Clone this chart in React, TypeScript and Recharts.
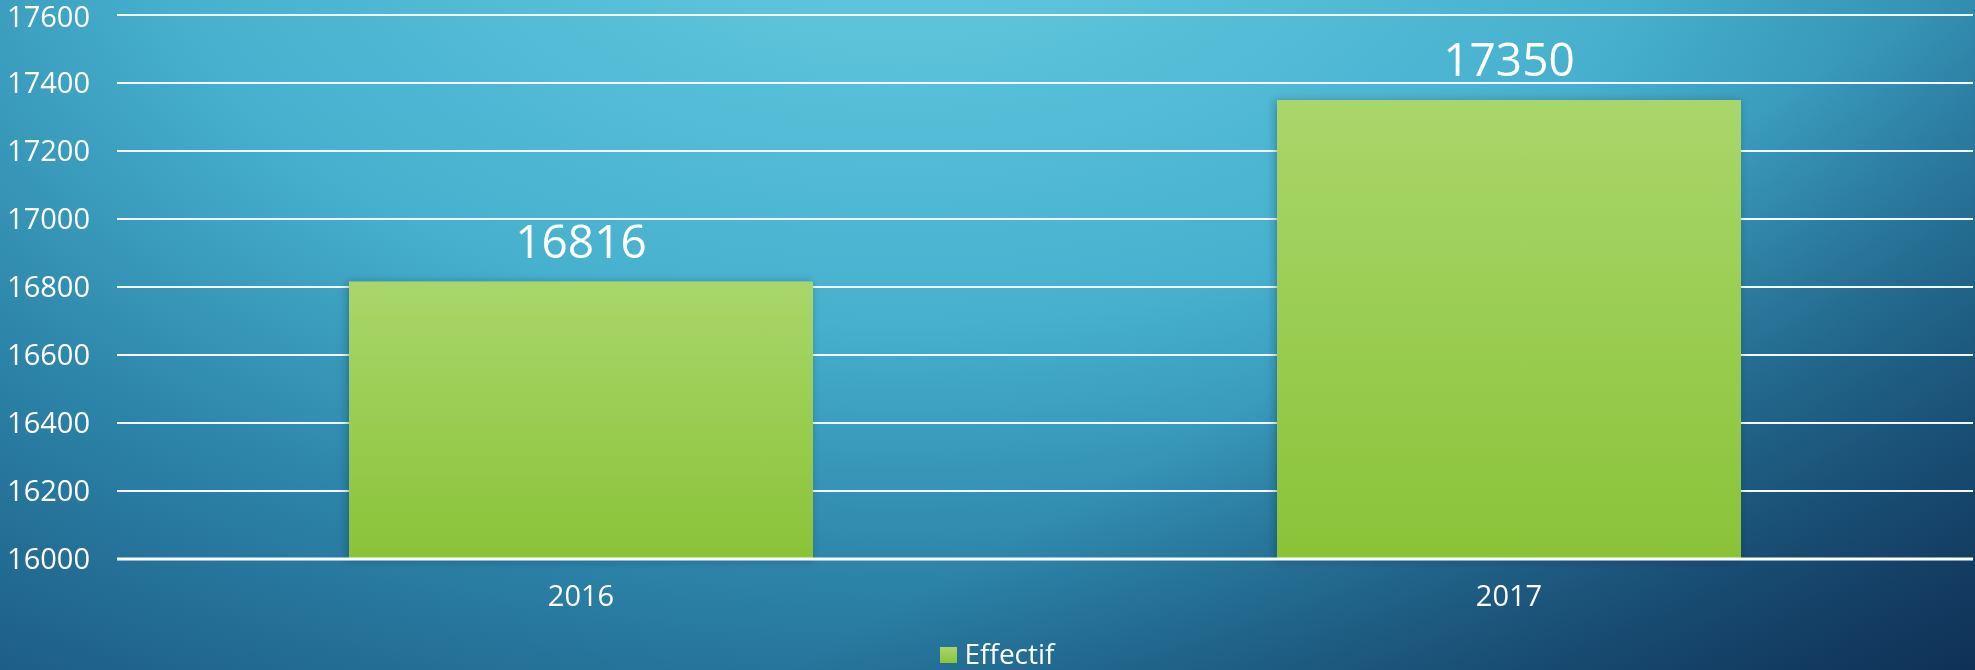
import { BarChart, Bar, XAxis, YAxis, CartesianGrid, Legend, LabelList } from 'recharts';

const years = ['2016', '2017'];
const effectif = [16816, 17350];
const yTicks = [16000, 16200, 16400, 16600, 16800, 17000, 17200, 17400, 17600];

const chartData = years.map((year, i) => ({ year, Effectif: effectif[i] }));

const FONT = '"Open Sans", sans-serif';

// slide-style backdrop: bright spot top-center, darkening toward the bottom-right corner
const background = [
  'linear-gradient(150deg, rgba(8,25,60,0) 62%, rgba(8,25,60,0.6) 100%)',
  'radial-gradient(1500px 850px at 900px -100px, #66cbe0 0%, #46b0ce 50%, #2c83a8 80%, #1a5580 115%)',
].join(', ');

function LegendContent() {
  return (
    <div
      style={{
        height: 40,
        display: 'flex',
        alignItems: 'center',
        justifyContent: 'center',
        fontFamily: FONT,
        fontSize: 28,
        color: '#fff',
        paddingTop: 6,
        paddingLeft: 22,
        boxSizing: 'border-box',
      }}
    >
      <span
        style={{
          display: 'inline-block',
          width: 17,
          height: 16,
          marginRight: 7,
          marginTop: 4,
          background: 'linear-gradient(#a8d56a, #8bc43a)',
        }}
      />
      <span style={{ lineHeight: '28px' }}>Effectif</span>
    </div>
  );
}

export default function App() {
  return (
    <div
      style={{
        position: 'fixed',
        left: 0,
        top: 0,
        width: 1975,
        height: 670,
        background,
        fontFamily: FONT,
      }}
    >
      <BarChart
        width={1975}
        height={670}
        data={chartData}
        margin={{ top: 15, right: 2, left: 0, bottom: 11 }}
        barCategoryGap="25%"
      >
        <defs>
          <linearGradient id="barFill" x1="0" y1="0" x2="0" y2="1">
            <stop offset="0%" stopColor="#a9d66b" />
            <stop offset="100%" stopColor="#8ac338" />
          </linearGradient>
          <filter id="barShadow" x="-10%" y="-10%" width="120%" height="120%">
            <feDropShadow dx="-2" dy="1" stdDeviation="4" floodColor="#0a2a40" floodOpacity="0.35" />
          </filter>
        </defs>
        <CartesianGrid vertical={false} stroke="#ffffff" strokeWidth={2} strokeOpacity={0.95} />
        <XAxis
          dataKey="year"
          height={60}
          axisLine={{ stroke: '#ffffff', strokeWidth: 3 }}
          tickLine={false}
          tickMargin={20}
          tick={{ fill: '#ffffff', fontSize: 29, fontFamily: FONT }}
        />
        <YAxis
          width={117}
          domain={[16000, 17600]}
          ticks={yTicks}
          axisLine={false}
          tickLine={false}
          tickMargin={21}
          tick={{ fill: '#ffffff', fontSize: 29, fontFamily: FONT }}
        />
        <Legend verticalAlign="bottom" wrapperStyle={{ bottom: 0 }} content={() => <LegendContent />} />
        <Bar dataKey="Effectif" fill="url(#barFill)" filter="url(#barShadow)" isAnimationActive={false}>
          <LabelList dataKey="Effectif" position="top" offset={24} fill="#ffffff" fontSize={46} fontFamily={FONT} />
        </Bar>
      </BarChart>
    </div>
  );
}
